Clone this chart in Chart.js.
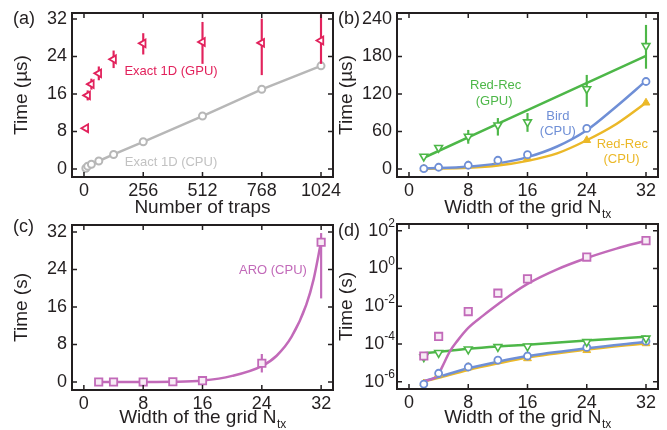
<!DOCTYPE html>
<html><head><meta charset="utf-8">
<script src="https://cdn.jsdelivr.net/npm/chart.js@4.4.0/dist/chart.umd.min.js"></script>
<style>
html,body{margin:0;padding:0;background:#fff;}
#wrap{position:relative;width:667px;height:430px;overflow:hidden;background:#fff;}
canvas{position:absolute;left:0;top:0;}
</style></head><body>
<div id="wrap">
<canvas id="pa" width="667" height="430"></canvas>
<canvas id="pb" width="667" height="430"></canvas>
<canvas id="pc" width="667" height="430"></canvas>
<canvas id="pd" width="667" height="430"></canvas>
</div>
<script>
// ---------- data ----------
// (a) number of traps vs time (µs)
const traps = [8, 16, 32, 64, 128, 256, 512, 768, 1024];
const exactGpuTime = [8.7, 15.7, 18.1, 20.4, 23.4, 26.8, 27.1, 26.9, 27.4];
const exactGpuErrLow = [8.4, 14.7, 17.0, 19.0, 21.6, 24.5, 22.5, 20.1, 22.5];
const exactGpuErrHigh = [9.0, 16.7, 19.2, 21.8, 25.2, 28.9, 31.3, 32.0, 32.9];
const exactCpuTime = [0.15, 0.6, 1.0, 1.7, 3.1, 5.8, 11.3, 17.0, 22.0];

// (b)-(d) grid width vs time
const gridWidths = [2, 4, 8, 12, 16, 24, 32];
const redRecGpuTime = [20, 34, 52, 70, 75, 128, 197];      // µs
const redRecGpuErrLow = [17, 31, 41, 54, 60, 100, 161];
const redRecGpuErrHigh = [23, 37, 62, 81, 89, 150, 230];
const birdCpuTime = [0.75, 2.8, 6, 14, 23, 65, 140];        // µs
const redRecCpuTime = [0.8, 2.5, 6, 13, 17, 46, 106];       // µs
const aroCpuTime = [2.3e-5, 2.5e-4, 5.2e-3, 0.049, 0.28, 4.0, 29.8]; // s
const aroCpuErrLow = [null, null, null, null, null, 2.1, 17.9];
const aroCpuErrHigh = [null, null, null, null, null, 5.9, 31.7];

// fitted curves
const redRecGpuFitX = [2, 32];
const redRecGpuFitLin = [18, 181];
const cpuFitLinX = [2, 8, 12, 16, 20, 24, 28, 32];
const birdCpuFitLin = [1, 3.7, 9, 19, 36, 62, 100, 141];
const redRecCpuFitLin = [0.5, 2, 5.5, 13, 25, 46, 72, 106];
const aroFitLinX = [2, 8, 12, 16, 20, 24, 26, 28, 30, 31, 32];
const aroFitLin = [0, 0.01, 0.05, 0.3, 1.3, 3.4, 5.6, 9.6, 16.5, 22, 30];
const aroFitLogX = [2, 3, 3.5, 4, 4.5, 5.5, 6.5, 8, 10, 12, 14, 16, 20, 24, 28, 32];
const aroFitLog = [1.12e-6, 1.32e-6, 1.66e-6, 2.57e-6, 6.3e-6, 3.9e-5, 1.41e-4, 7.1e-4, 3.16e-3, 0.0126, 0.047, 0.151, 0.89, 3.55, 11.2, 29.5];
const fitLogX = [2, 4, 8, 12, 16, 24, 32];
const redRecGpuFitLog = [3.2e-5, 3.8e-5, 5.6e-5, 7.4e-5, 9.1e-5, 1.5e-4, 2.4e-4];
const birdCpuFitLog = [1.05e-6, 1.8e-6, 5.1e-6, 1.15e-5, 2.3e-5, 5.9e-5, 1.3e-4];
const redRecCpuFitLog = [1e-6, 1.6e-6, 4.2e-6, 9.3e-6, 1.9e-5, 5e-5, 1.1e-4];

// tick values
const trapTicks = [0, 256, 512, 768, 1024];
const timeTicksA = [0, 8, 16, 24, 32];
const widthTicks = [0, 8, 16, 24, 32];
const timeTicksB = [0, 60, 120, 180, 240];
const timeTicksC = [0, 8, 16, 24, 32];
const timeTicksD = [1e-6, 1e-4, 1e-2, 1, 100];

// ---------- styling ----------
const FONT = '"Liberation Sans", Arial, Helvetica, sans-serif';
const INK = '#231f20';
const C = {gpu:'#e2225c', cpu:'#b7b7b7', green:'#4db748', blue:'#6f8fd6', yellow:'#ebb828', mag:'#c26ab9'};
Chart.defaults.font.family = FONT;
Chart.defaults.color = INK;

const pts = (xs, ys) => xs.map((x, i) => ({x, y: ys[i]}));
const bars = (xs, lo, hi) => xs.map((x, i) => ({x, y: [lo[i], hi[i]]})).filter(d => d.y[0] != null);

function xAxis(min, max, vals, type) {
  return {type: type || 'linear', min, max, offset: false,
    grid: {display: false, drawTicks: false, offset: false}, border: {display: false},
    ticks: {font: {size: 18}, color: INK, padding: 3, maxRotation: 0, autoSkip: false, callback: v => String(v)},
    afterBuildTicks: s => { s.ticks = vals.map(v => ({value: v})); },
    afterFit: s => { s.height = 30; s.paddingLeft = s.paddingRight = s.paddingTop = s.paddingBottom = 0; }
  };
}
function yAxis(min, max, vals, type, showLabels) {
  return {type: type || 'linear', min, max, offset: false,
    grid: {display: false, drawTicks: false}, border: {display: false},
    ticks: {display: showLabels !== false, font: {size: 18}, color: INK, padding: 5, autoSkip: false, callback: v => String(v)},
    afterBuildTicks: s => { s.ticks = vals.map(v => ({value: v})); },
    afterFit: s => { s.width = 40; s.paddingLeft = s.paddingRight = s.paddingTop = s.paddingBottom = 0; }
  };
}
function padFor(area) {
  return {left: area.left - 40, top: area.top, right: 667 - area.right, bottom: 430 - area.bottom - 30};
}

function decor(spec) {
  return {id: 'decor', afterDraw(chart) {
    const ctx = chart.ctx, ca = chart.chartArea, xs = chart.scales.x, ys = chart.scales.y;
    ctx.save();
    ctx.strokeStyle = INK; ctx.lineWidth = 1.5;
    ctx.beginPath();
    xs.ticks.forEach(t => { const p = xs.getPixelForValue(t.value);
      ctx.moveTo(p, ca.bottom); ctx.lineTo(p, ca.bottom - 5); ctx.moveTo(p, ca.top); ctx.lineTo(p, ca.top + 5); });
    ys.ticks.forEach(t => { const p = ys.getPixelForValue(t.value);
      ctx.moveTo(ca.left, p); ctx.lineTo(ca.left + 5, p); ctx.moveTo(ca.right, p); ctx.lineTo(ca.right - 5, p); });
    ctx.stroke();
    ctx.lineWidth = 2;
    ctx.strokeRect(ca.left, ca.top, ca.right - ca.left, ca.bottom - ca.top);
    ctx.fillStyle = INK;
    // log tick labels with superscripts
    if (spec.logLabels) {
      ys.ticks.forEach(t => {
        const p = ys.getPixelForValue(t.value);
        const e = String(Math.round(Math.log10(t.value)));
        ctx.font = '12px ' + FONT;
        const we = ctx.measureText(e).width;
        const right = ca.left - 2;
        ctx.textAlign = 'left'; ctx.textBaseline = 'middle';
        ctx.fillText(e, right - we, p - 7);
        ctx.font = '18px ' + FONT; ctx.textAlign = 'right';
        ctx.fillText('10', right - we, p);
      });
    }
    // x title
    ctx.textBaseline = 'alphabetic';
    const cx = (ca.left + ca.right) / 2;
    ctx.font = '19px ' + FONT;
    const w1 = ctx.measureText(spec.xTitle).width;
    let w2 = 0;
    if (spec.xSub) { ctx.font = '12px ' + FONT; w2 = ctx.measureText(spec.xSub).width; }
    const x0 = cx - (w1 + w2) / 2;
    ctx.textAlign = 'left';
    ctx.font = '19px ' + FONT;
    ctx.fillText(spec.xTitle, x0, ca.bottom + spec.xTitleDy);
    if (spec.xSub) { ctx.font = '12px ' + FONT; ctx.fillText(spec.xSub, x0 + w1 + 0.5, ca.bottom + spec.xTitleDy + 5); }
    // y title
    ctx.save();
    ctx.translate(spec.yTitleX, (ca.top + ca.bottom) / 2);
    ctx.rotate(-Math.PI / 2);
    ctx.font = '19px ' + FONT; ctx.textAlign = 'center'; ctx.textBaseline = 'middle';
    ctx.fillText(spec.yTitle, 0, 0);
    ctx.restore();
    // panel letter
    ctx.font = '18px ' + FONT; ctx.textAlign = 'left'; ctx.textBaseline = 'middle';
    ctx.fillText(spec.letter, spec.letterX, spec.letterY);
    // series labels (anchored in data coordinates)
    ctx.font = '13px ' + FONT; ctx.textAlign = 'center'; ctx.textBaseline = 'middle';
    (spec.notes || []).forEach(n => {
      ctx.fillStyle = n.color;
      ctx.fillText(n.text, xs.getPixelForValue(n.x), ys.getPixelForValue(n.y));
    });
    ctx.restore();
  }};
}

const common = {responsive: false, animation: false, events: [],
  plugins: {legend: {display: false}, tooltip: {enabled: false}}};

function marker(data, style, color, fill, extra) {
  return Object.assign({type: 'line', data, showLine: false, pointStyle: style, pointRadius: 4.5,
    pointBorderWidth: 1.8, pointBorderColor: color, pointBackgroundColor: fill, borderColor: color, backgroundColor: fill}, extra || {});
}
function curve(data, color) {
  return {type: 'line', data, borderColor: color, borderWidth: 2.5, pointRadius: 0, fill: false,
    cubicInterpolationMode: 'monotone'};
}
function errBar(data, color) {
  return {type: 'bar', data, backgroundColor: color, borderWidth: 0, barThickness: 1.5, grouped: false};
}

// ---------- (a) ----------
const areaA = {left: 72, top: 13, right: 333, bottom: 177};
new Chart(document.getElementById('pa'), {
  type: 'line',
  data: {datasets: [
    marker(pts(traps, exactGpuTime), 'triangle', C.gpu, '#fff', {rotation: -90}),
    errBar(bars(traps, exactGpuErrLow, exactGpuErrHigh), C.gpu),
    Object.assign(marker(pts(traps, exactCpuTime), 'circle', C.cpu, '#fff', {pointRadius: 3.5, pointBorderWidth: 2}),
      {showLine: true, borderWidth: 2.5, tension: 0})
  ]},
  options: Object.assign({}, common, {
    layout: {padding: padFor(areaA)},
    scales: {x: xAxis(-51.8, 1075.8, trapTicks), y: yAxis(-1.71, 33.28, timeTicksA)}
  }),
  plugins: [decor({letter: '(a)', letterX: 13, letterY: 19, xTitle: 'Number of traps', xTitleDy: 36,
    yTitle: 'Time (µs)', yTitleX: 22,
    notes: [{text: 'Exact 1D (GPU)', x: 376, y: 20.9, color: C.gpu},
            {text: 'Exact 1D (CPU)', x: 376, y: 1.45, color: '#c2c2c2'}]})]
});

// ---------- (b) ----------
const areaB = {left: 397, top: 13, right: 658, bottom: 177};
new Chart(document.getElementById('pb'), {
  type: 'line',
  data: {datasets: [
    marker(pts(gridWidths, redRecGpuTime), 'triangle', C.green, '#fff', {rotation: 180, pointBorderWidth: 1.6}),
    marker(pts(gridWidths, birdCpuTime), 'circle', C.blue, '#fff', {pointRadius: 3.5}),
    marker(pts(gridWidths, redRecCpuTime), 'triangle', C.yellow, C.yellow, {pointBorderWidth: 1}),
    errBar(bars(gridWidths, redRecGpuErrLow, redRecGpuErrHigh), C.green),
    curve(pts(redRecGpuFitX, redRecGpuFitLin), C.green),
    curve(pts(cpuFitLinX, birdCpuFitLin), C.blue),
    curve(pts(cpuFitLinX, redRecCpuFitLin), C.yellow)
  ]},
  options: Object.assign({}, common, {
    layout: {padding: padFor(areaB)},
    scales: {x: xAxis(-1.62, 33.62, widthTicks), y: yAxis(-12.8, 249.6, timeTicksB)}
  }),
  plugins: [decor({letter: '(b)', letterX: 338, letterY: 19, xTitle: 'Width of the grid N', xSub: 'tx', xTitleDy: 36,
    yTitle: 'Time (µs)', yTitleX: 347,
    notes: [{text: 'Red-Rec', x: 11.7, y: 134.4, color: C.green}, {text: '(GPU)', x: 11.5, y: 108.8, color: C.green},
            {text: 'Bird', x: 20.1, y: 83.7, color: C.blue}, {text: '(CPU)', x: 20.1, y: 59.7, color: C.blue},
            {text: 'Red-Rec', x: 28.8, y: 40, color: C.yellow}, {text: '(CPU)', x: 28.7, y: 15.5, color: C.yellow}]})]
});

// ---------- (c) ----------
const areaC = {left: 72, top: 225, right: 333, bottom: 390};
new Chart(document.getElementById('pc'), {
  type: 'line',
  data: {datasets: [
    marker(pts(gridWidths, aroCpuTime), 'rect', C.mag, '#f7ecf5', {pointRadius: 5.2}),
    errBar(bars(gridWidths, aroCpuErrLow, aroCpuErrHigh), C.mag),
    curve(pts(aroFitLinX, aroFitLin), C.mag)
  ]},
  options: Object.assign({}, common, {
    layout: {padding: padFor(areaC)},
    scales: {x: xAxis(-1.6, 33.6, widthTicks), y: yAxis(-1.71, 33.49, timeTicksC)}
  }),
  plugins: [decor({letter: '(c)', letterX: 13, letterY: 227, xTitle: 'Width of the grid N', xSub: 'tx', xTitleDy: 33,
    yTitle: 'Time (s)', yTitleX: 22,
    notes: [{text: 'ARO (CPU)', x: 25.5, y: 23.9, color: C.mag}]})]
});

// ---------- (d) ----------
const areaD = {left: 397, top: 224, right: 658, bottom: 389};
const us = v => v * 1e-6;
new Chart(document.getElementById('pd'), {
  type: 'line',
  data: {datasets: [
    marker(pts(gridWidths, aroCpuTime), 'rect', C.mag, '#f7ecf5', {pointRadius: 5.2}),
    marker(pts(gridWidths, redRecGpuTime.map(us)), 'triangle', C.green, '#fff', {rotation: 180, pointBorderWidth: 1.6}),
    marker(pts(gridWidths, birdCpuTime.map(us)), 'circle', C.blue, '#fff', {pointRadius: 3.5}),
    marker(pts(gridWidths, redRecCpuTime.map(us)), 'triangle', C.yellow, C.yellow, {pointBorderWidth: 1}),
    curve(pts(aroFitLogX, aroFitLog), C.mag),
    curve(pts(fitLogX, redRecGpuFitLog), C.green),
    curve(pts(fitLogX, birdCpuFitLog), C.blue),
    curve(pts(fitLogX, redRecCpuFitLog), C.yellow)
  ]},
  options: Object.assign({}, common, {
    layout: {padding: padFor(areaD)},
    scales: {x: xAxis(-1.62, 33.62, widthTicks), y: yAxis(4.1e-7, 226, timeTicksD, 'logarithmic', false)}
  }),
  plugins: [decor({letter: '(d)', letterX: 338, letterY: 231, xTitle: 'Width of the grid N', xSub: 'tx', xTitleDy: 34,
    yTitle: 'Time (s)', yTitleX: 347, logLabels: true})]
});
</script>
</body></html>
